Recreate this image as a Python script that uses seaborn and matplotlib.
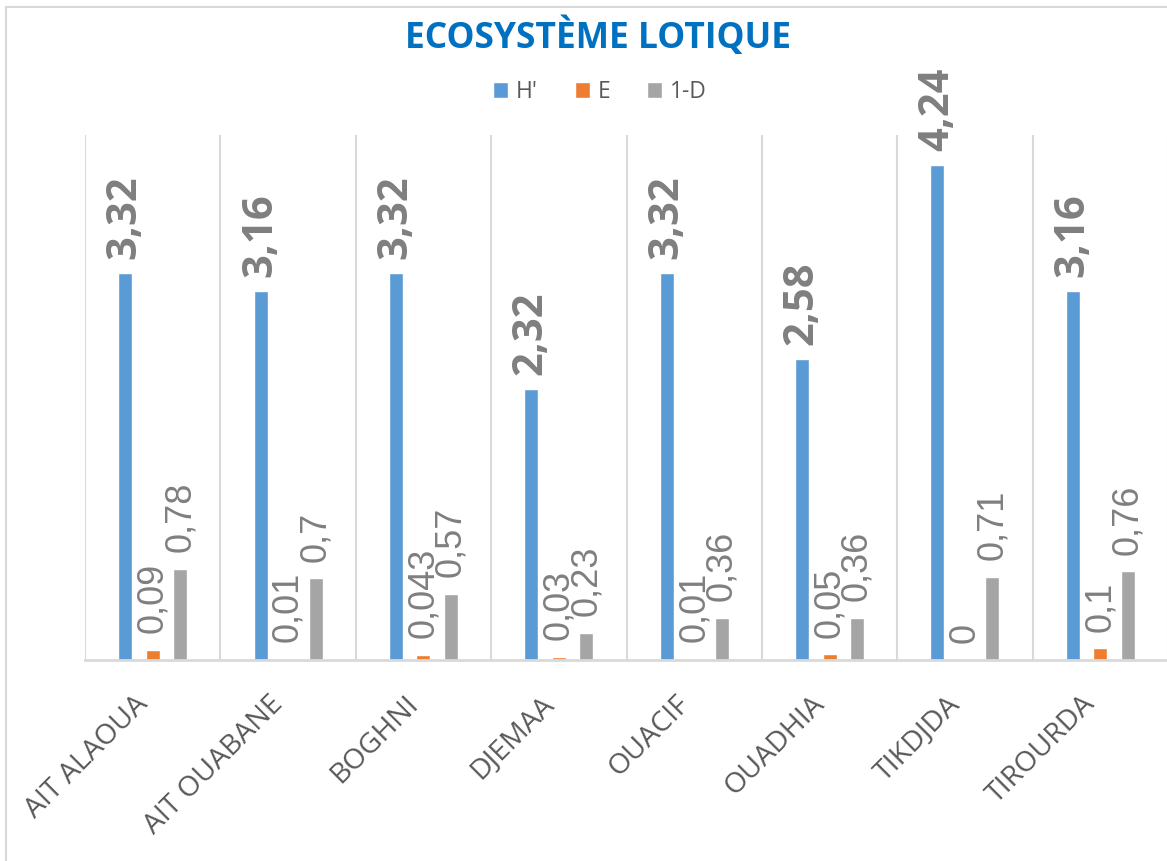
import pandas as pd
import matplotlib
matplotlib.use('Agg')
import matplotlib.pyplot as plt
import matplotlib.transforms as mtransforms
from matplotlib.patches import Rectangle
import seaborn as sns

# data
sites = ['AIT ALAOUA', 'AIT OUABANE', 'BOGHNI', 'DJEMAA',
         'OUACIF', 'OUADHIA', 'TIKDJDA', 'TIROURDA']
indices = ["H'", 'E', '1-D']
h_values = [3.32, 3.16, 3.32, 2.32, 3.32, 2.58, 4.24, 3.16]
e_values = [0.09, 0.01, 0.043, 0.03, 0.01, 0.05, 0, 0.1]
d_values = [0.78, 0.7, 0.57, 0.23, 0.36, 0.36, 0.71, 0.76]
h_labels = ['3,32', '3,16', '3,32', '2,32', '3,32', '2,58', '4,24', '3,16']
e_labels = ['0,09', '0,01', '0,043', '0,03', '0,01', '0,05', '0', '0,1']
d_labels = ['0,78', '0,7', '0,57', '0,23', '0,36', '0,36', '0,71', '0,76']
colors = ['#5B9BD5', '#ED7D31', '#A5A5A5']

df = pd.DataFrame({
    'site': sites * 3,
    'indice': [indices[0]] * 8 + [indices[1]] * 8 + [indices[2]] * 8,
    'value': h_values + e_values + d_values,
})

sns.set_style('white')
plt.rcParams['font.family'] = ['Open Sans', 'DejaVu Sans']

W, H = 1167, 861
fig = plt.figure(figsize=(W / 100, H / 100), dpi=100)
ax = fig.add_axes([85 / W, 1 - 660 / H, 1083 / W, (660 - 135) / H])

sns.barplot(data=df, x='site', y='value', hue='indice', palette=colors,
            width=0.61, gap=0.49, saturation=1, ax=ax, legend=True)

ax.set_ylim(0, 4.5)
ax.set_xlim(-0.5, 7.5)
ax.set_xlabel('')
ax.set_ylabel('')
ax.set_yticks([])
for s in ['top', 'right', 'left']:
    ax.spines[s].set_visible(False)
ax.spines['bottom'].set_color('#D9D9D9')
ax.spines['bottom'].set_linewidth(2)

# vertical separators between categories
for xb in [i - 0.5 for i in range(9)]:
    ax.axvline(xb, color='#D9D9D9', lw=1.5, zorder=0)

# value labels
ax.bar_label(ax.containers[0], labels=h_labels, rotation=90, padding=10,
             fontsize=30, fontweight='bold', color='#7F7F7F',
             family='Open Sans')
for cont, labs in zip(ax.containers[1:], [e_labels, d_labels]):
    ax.bar_label(cont, labels=labs, rotation=90, padding=12,
                 fontsize=26, color='#7F7F7F', family='Liberation Sans')

# category labels
ax.tick_params(axis='x', length=0, pad=0)
offset = mtransforms.ScaledTranslation(-0.09, -0.40, fig.dpi_scale_trans)
for lab in ax.get_xticklabels():
    lab.set_rotation(45)
    lab.set_ha('right')
    lab.set_va('center')
    lab.set_rotation_mode('anchor')
    lab.set_fontsize(20.5)
    lab.set_color('#595959')
    lab.set_transform(lab.get_transform() + offset)

# legend and title
handles, labels = ax.get_legend_handles_labels()
ax.legend(handles, labels, loc='center', bbox_to_anchor=(600 / W, 1 - 92 / H),
          bbox_transform=fig.transFigure, ncol=3, frameon=False,
          fontsize=16.5, labelcolor='#595959', handlelength=0.65,
          handleheight=0.65, handletextpad=0.35, columnspacing=1.6)

fig.text(598 / W, 1 - 37 / H, 'ECOSYSTÈME LOTIQUE', ha='center', va='center',
         fontsize=25.5, fontweight='bold', color='#0070C0')

# chart area border
fig.patches.append(Rectangle((6 / W, -0.1), 2, 1 - 7 / H + 0.1,
                             transform=fig.transFigure, fill=False,
                             edgecolor='#D9D9D9', lw=1.5))

fig.savefig('out.png', dpi=100)
